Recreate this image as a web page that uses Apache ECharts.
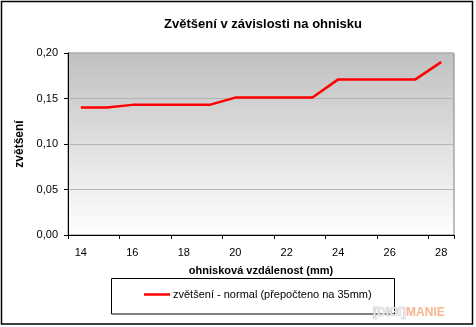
<!DOCTYPE html>
<html>
<head>
<meta charset="utf-8">
<script src="https://cdn.jsdelivr.net/npm/echarts@6/dist/echarts.min.js"></script>
<style>
  html, body { margin: 0; padding: 0; background: #fff; }
  #chart { width: 476px; height: 327px; }
</style>
</head>
<body>
<div id="chart"></div>
<script>
// Focal lengths (mm) and magnification values
const focalLengths = ['14', '15', '16', '17', '18', '19', '20', '21', '22', '23', '24', '25', '26', '27', '28'];
const magnification = [0.140, 0.140, 0.143, 0.143, 0.143, 0.143, 0.151, 0.151, 0.151, 0.151, 0.171, 0.171, 0.171, 0.171, 0.190];
const seriesName = 'zvětšení - normal (přepočteno na 35mm)';
const titleText = 'Zvětšení v závislosti na ohnisku';
const xAxisTitle = 'ohnisková vzdálenost (mm)';
const yAxisTitle = 'zvětšení';

const FONT = 'Liberation Sans, Arial, sans-serif';

const chart = echarts.init(document.getElementById('chart'), null, { renderer: 'canvas' });

chart.setOption({
  animation: false,
  backgroundColor: '#fff',
  grid: {
    left: 68, right: 22, top: 53, bottom: 92,
    show: true,
    borderColor: '#808080',
    borderWidth: 1,
    backgroundColor: {
      type: 'linear', x: 0, y: 0, x2: 0, y2: 1,
      colorStops: [
        { offset: 0, color: '#c0c0c0' },
        { offset: 1, color: '#ffffff' }
      ]
    }
  },
  xAxis: {
    type: 'category',
    data: focalLengths,
    boundaryGap: true,
    name: xAxisTitle,
    nameLocation: 'middle',
    nameGap: 30,
    nameTextStyle: { fontFamily: FONT, fontSize: 11, fontWeight: 'bold', color: '#000' },
    axisLine: { show: true, lineStyle: { color: '#000', width: 1 } },
    axisTick: { show: true, interval: 1, length: 4, alignWithLabel: false, lineStyle: { color: '#000' } },
    axisLabel: { interval: 1, margin: 12, fontFamily: FONT, fontSize: 11, color: '#000' },
    splitLine: { show: false }
  },
  yAxis: {
    type: 'value',
    min: 0, max: 0.2, interval: 0.05,
    name: yAxisTitle,
    nameLocation: 'middle',
    nameGap: 42,
    nameRotate: 90,
    nameTextStyle: { fontFamily: FONT, fontSize: 12, fontWeight: 'bold', color: '#000' },
    axisLine: { show: true, lineStyle: { color: '#000', width: 1 } },
    axisTick: { show: true, length: 4, lineStyle: { color: '#000' } },
    axisLabel: {
      margin: 10, fontFamily: FONT, fontSize: 11, color: '#000',
      formatter: v => v.toFixed(2).replace('.', ',')
    },
    splitLine: { show: true, lineStyle: { color: '#b4b4b4', width: 1 } }
  },
  legend: {
    left: 144, top: 289,
    padding: 0,
    itemWidth: 26, itemHeight: 2.5, itemGap: 0,
    icon: 'rect',
    textStyle: { fontFamily: FONT, fontSize: 11, color: '#000', padding: [0, 0, 0, -2] },
    data: [seriesName]
  },
  series: [{
    name: seriesName,
    type: 'line',
    data: magnification,
    showSymbol: false,
    symbol: 'none',
    color: '#ff0000',
    lineStyle: { color: '#ff0000', width: 2.5 }
  }],
  graphic: [
    {
      type: 'rect', silent: true, z: -1,
      shape: { x: 1.5, y: 1.5, width: 471, height: 322.5 },
      style: { fill: 'none', stroke: '#000', lineWidth: 1.5 }
    },
    {
      type: 'text', silent: true,
      x: 263, y: 24,
      style: {
        text: titleText, fontFamily: FONT, fontSize: 13, fontWeight: 'bold',
        fill: '#000', align: 'center', verticalAlign: 'middle'
      }
    },
    {
      type: 'rect', silent: true,
      shape: { x: 111.5, y: 278.5, width: 283, height: 35.5 },
      style: { fill: 'none', stroke: '#000', lineWidth: 1 }
    },
    {
      type: 'text', silent: true,
      x: 373, y: 312.5,
      style: {
        text: '[DIGI]', fontFamily: FONT, fontSize: 12, fontWeight: 'bold',
        fill: '#e8e8e8', stroke: '#b8b8b8', lineWidth: 0.6,
        align: 'left', verticalAlign: 'middle'
      }
    },
    {
      type: 'text', silent: true,
      x: 406, y: 312.5,
      style: {
        text: 'MANIE', fontFamily: FONT, fontSize: 12, fontWeight: 'bold',
        fill: '#f6b48e', align: 'left', verticalAlign: 'middle'
      }
    }
  ]
});
</script>
</body>
</html>
